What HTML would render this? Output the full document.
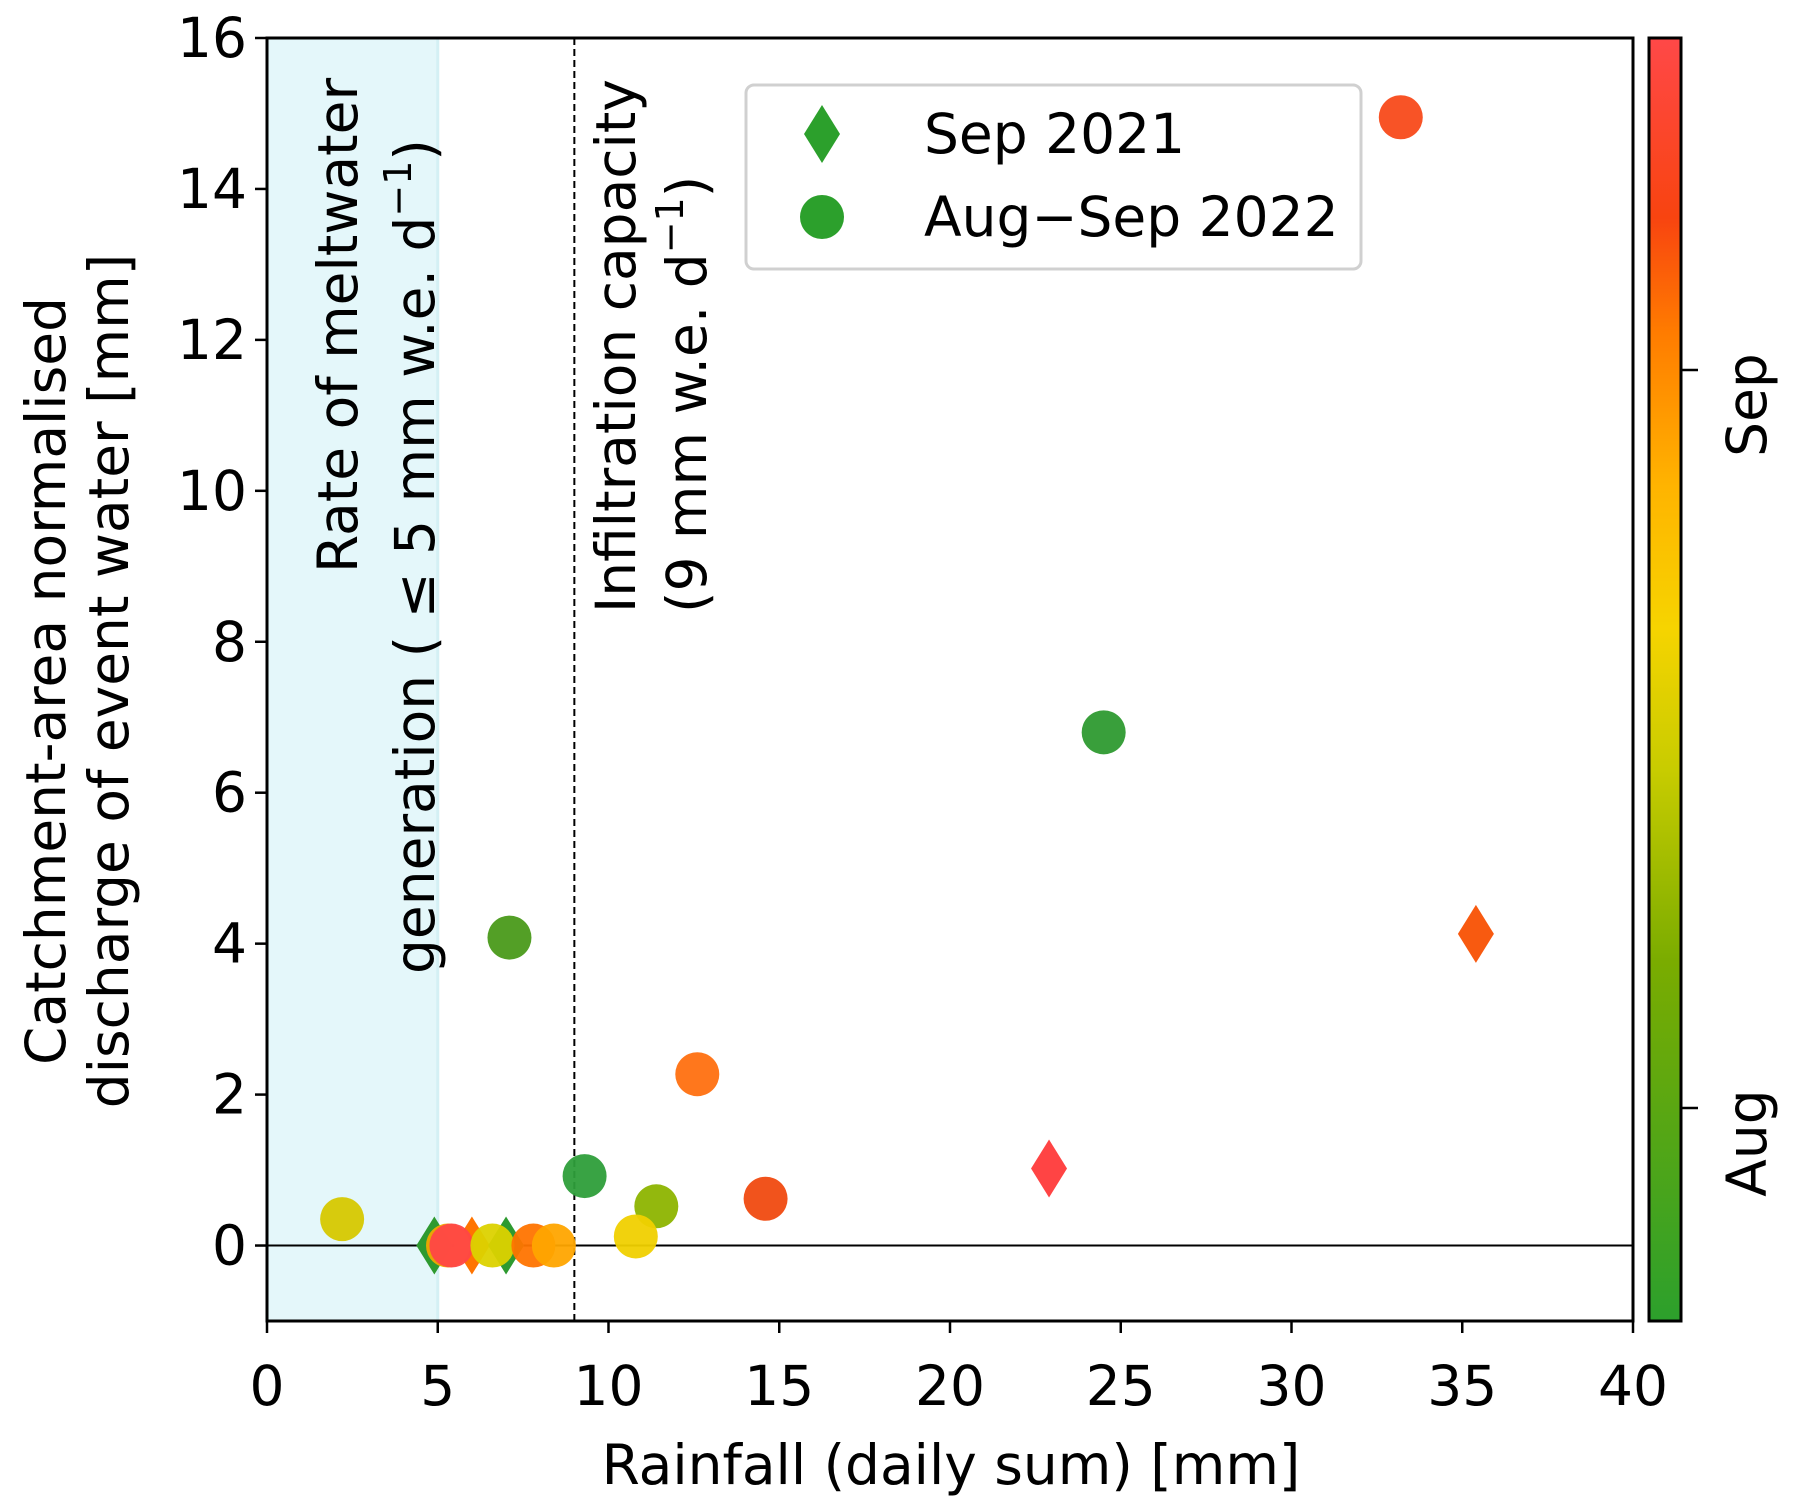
<!DOCTYPE html>
<html><head><meta charset="utf-8"><style>
html,body{margin:0;padding:0;background:#fff;}
svg{display:block;font-family:"DejaVu Sans","Liberation Sans",sans-serif;}
</style></head><body>
<svg id="chart" width="1796" height="1510" viewBox="0 0 1796 1510">
<defs>
<linearGradient id="cmap" x1="0" y1="1" x2="0" y2="0">
<stop offset="0" stop-color="#2ca02c"/>
<stop offset="0.28" stop-color="#7aac00"/>
<stop offset="0.43" stop-color="#c8cc00"/>
<stop offset="0.54" stop-color="#f6d400"/>
<stop offset="0.65" stop-color="#ffb400"/>
<stop offset="0.77" stop-color="#ff7c00"/>
<stop offset="0.86" stop-color="#f84410"/>
<stop offset="1" stop-color="#ff4848"/>
</linearGradient>
</defs>
<g id="plot"></g>
</svg>
<script>
const circX=[2.2,5.3,5.4,6.6,7.8,8.4,7.1,9.3,11.4,10.8,12.6,14.6,24.5,33.2];
const circY=[0.35,0,0,0,0,0,4.08,0.92,0.52,0.12,2.27,0.62,6.8,14.95];
const circC=["#d6c800","#f0a800","#ff4646","#dcd200","#ff7400","#ffa500","#4a9a1a","#2e9e3a","#8db400","#f0d000","#ff7010","#f04a10","#2e9a30","#f84a1a"];
const diaX=[4.9,6.0,7.0,22.9,35.4];
const diaY=[0,0,0,1.02,4.13];
const diaC=["#2e9a30","#ff7400","#2e9a30","#ff4444","#f85a10"];
const xTicks=[0,5,10,15,20,25,30,35,40];
const yTicks=[0,2,4,6,8,10,12,14,16];

const L=267,R=1633,T=38,B=1321;
const FS=55;
const xs=v=>L+(v-0)/(40-0)*(R-L);
const ys=v=>B-(v-(-1))/(16-(-1))*(B-T);
const NS="http://www.w3.org/2000/svg";
const g=document.getElementById('plot');
function mk(tag,attrs,parent){const e=document.createElementNS(NS,tag);for(const k in attrs)e.setAttribute(k,attrs[k]);(parent||g).appendChild(e);return e;}

let e;
e=mk('rect',{x:xs(0),y:T,width:xs(5)-xs(0),height:B-T,fill:'#e4f7fa'});


e=mk('line',{x1:xs(5),y1:T,x2:xs(5),y2:B,stroke:'#d4f0f4','stroke-width':3});


e=mk('line',{x1:L,y1:ys(0),x2:R,y2:ys(0),stroke:'#000','stroke-width':2});


e=mk('line',{x1:xs(9),y1:T,x2:xs(9),y2:B,stroke:'#000','stroke-width':2,'stroke-dasharray':'7,4'});



function vtext(str,cx,y,name){const t=mk('text',{transform:`translate(${cx},${y}) rotate(-90)`,'font-size':FS,'dominant-baseline':'central','text-anchor':'start'});t.textContent=str;

return t;}
vtext('Rate of meltwater',338,573,'meltwater-annotation-line1');
const t2=vtext('generation ( \u2264 5 mm w.e. d',415,974,'meltwater-annotation-line2');
const s1=mk('tspan',{dy:-17,'font-size':38},t2);s1.textContent='\u22121';
const s2=mk('tspan',{dy:17},t2);s2.textContent=')';
vtext('Infiltration capacity',616,613,'infiltration-annotation-line1');
const t4=vtext('(9 mm w.e. d',687,613,'infiltration-annotation-line2');
const s3=mk('tspan',{dy:-17,'font-size':38},t4);s3.textContent='\u22121';
const s4=mk('tspan',{dy:17},t4);s4.textContent=')';

function diamond(cx,cy,hw,hh,fill){return mk('polygon',{points:`${cx},${cy-hh} ${cx+hw},${cy} ${cx},${cy+hh} ${cx-hw},${cy}`,fill:fill});}
for(let i=0;i<diaX.length;i++){e=diamond(xs(diaX[i]),ys(diaY[i]),18,29,diaC[i]);

}
for(let i=0;i<circX.length;i++){e=mk('circle',{cx:xs(circX[i]),cy:ys(circY[i]),r:22,fill:circC[i],'fill-opacity':0.95});

}

e=mk('rect',{x:L,y:T,width:R-L,height:B-T,fill:'none',stroke:'#000','stroke-width':3});



xTicks.forEach(v=>{mk('line',{x1:xs(v),y1:B,x2:xs(v),y2:B+12,stroke:'#000','stroke-width':2.5});
const t=mk('text',{x:xs(v),y:B+84,'font-size':FS,'text-anchor':'middle'});t.textContent=v;

});
yTicks.forEach(v=>{mk('line',{x1:L-12,y1:ys(v),x2:L,y2:ys(v),stroke:'#000','stroke-width':2.5});
const t=mk('text',{x:L-20,y:ys(v),'font-size':FS,'text-anchor':'end','dominant-baseline':'central'});t.textContent=v;

});

e=mk('text',{x:951,y:1484,'font-size':FS,'text-anchor':'middle'});e.textContent='Rainfall (daily sum) [mm]';


e=mk('text',{transform:'translate(46,681) rotate(-90)','font-size':FS,'text-anchor':'middle','dominant-baseline':'central'});e.textContent='Catchment-area normalised';


e=mk('text',{transform:'translate(109,681) rotate(-90)','font-size':FS,'text-anchor':'middle','dominant-baseline':'central'});e.textContent='discharge of event water [mm]';



// legend
e=mk('rect',{x:746,y:85,width:615,height:184,rx:8,fill:'#fff','fill-opacity':0.85,stroke:'#d0d0d0','stroke-width':3});


e=diamond(822,134,18,29,'#2ca02c');


e=mk('text',{x:924,y:134,'font-size':FS,'dominant-baseline':'central'});e.textContent='Sep 2021';


e=mk('circle',{cx:822,cy:217,r:22,fill:'#2ca02c'});


e=mk('text',{x:924,y:217,'font-size':FS,'dominant-baseline':'central'});e.textContent='Aug\u2212Sep 2022';



// colorbar
e=mk('rect',{x:1649,y:T,width:32,height:B-T,fill:'url(#cmap)',stroke:'#000','stroke-width':3});


[['Sep',370],['Aug',1108]].forEach(([s,y])=>{mk('line',{x1:1681,y1:y,x2:1698,y2:y,stroke:'#000','stroke-width':2.5});
const t=mk('text',{transform:`translate(1747,${y+35}) rotate(-90)`,'font-size':FS,'text-anchor':'middle','dominant-baseline':'central'});t.textContent=s;

});
</script>
</body></html>
